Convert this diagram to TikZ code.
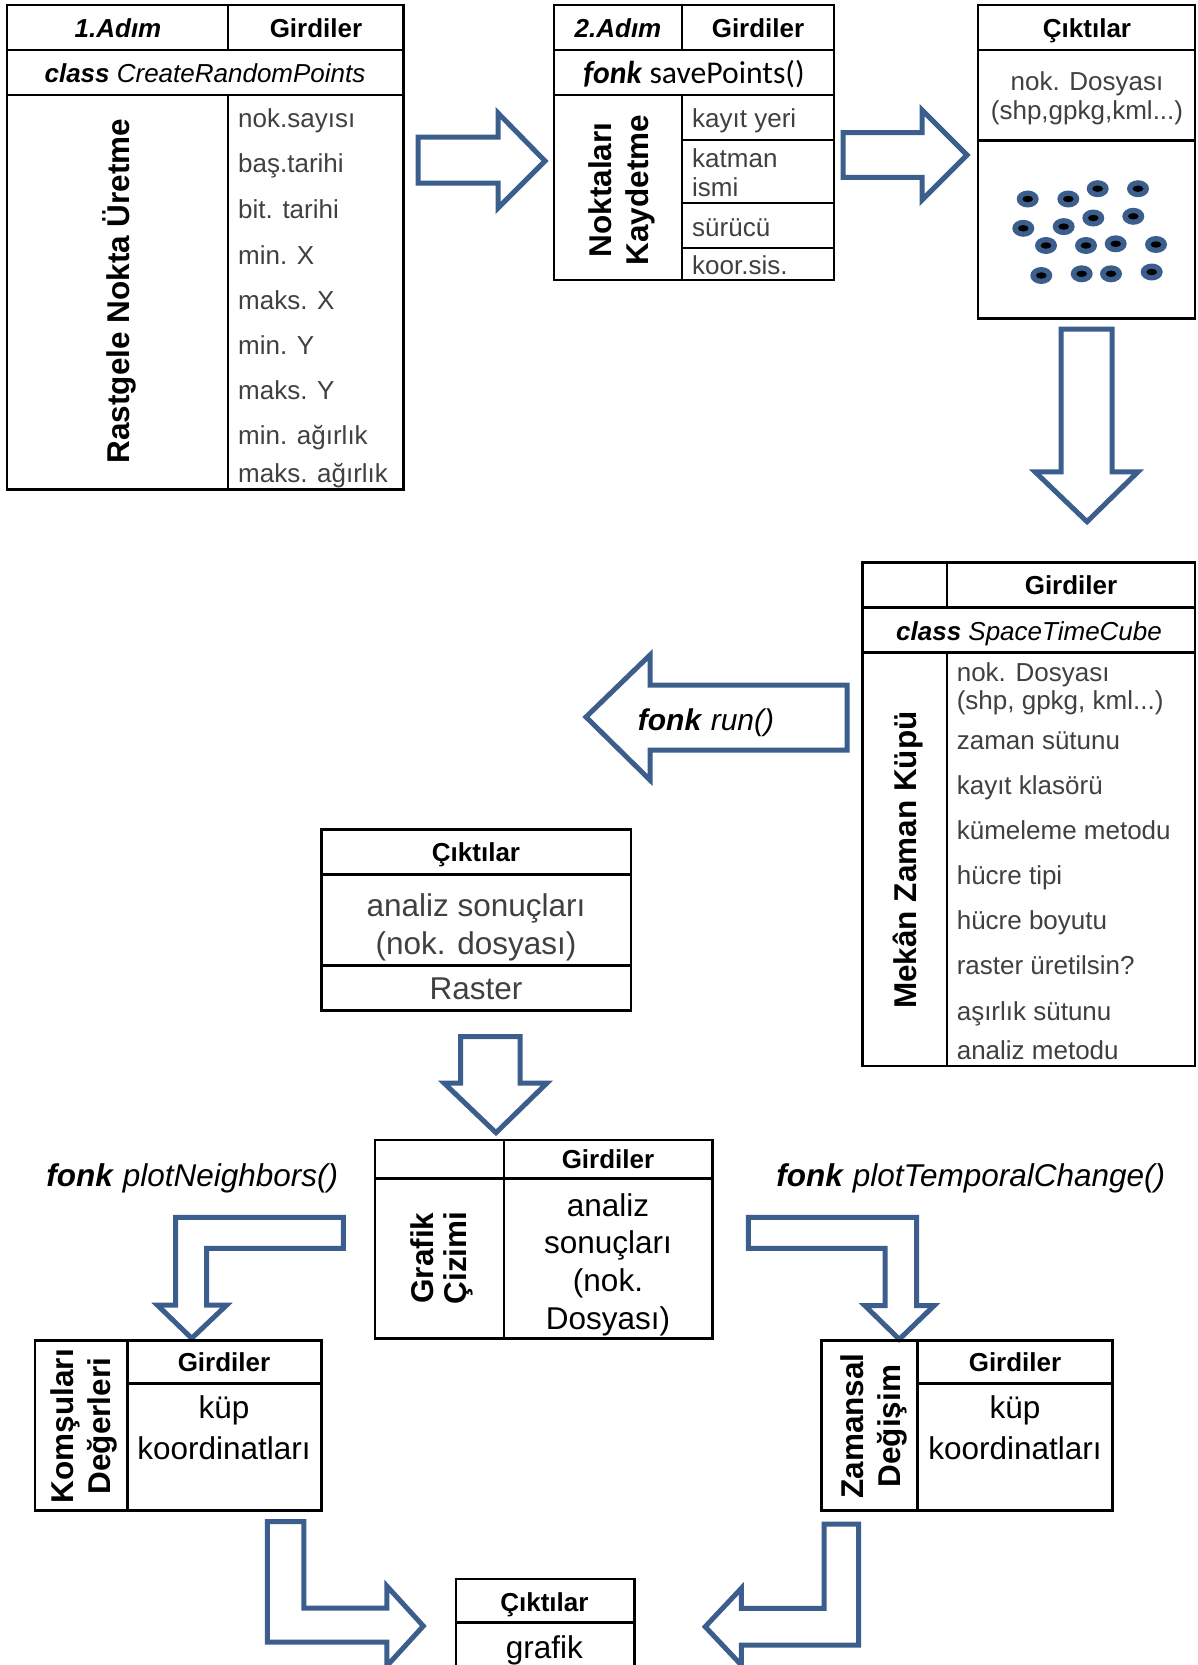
\documentclass[tikz,border=0pt]{standalone}
\usepackage{fontspec}
\setmainfont{Liberation Sans}
\newfontfamily\calibfont{Carlito}
\definecolor{arrowblue}{HTML}{3B5E8C}
\definecolor{inputgray}{HTML}{404040}
\tikzset{
  frame/.style={draw=black, line width=2.5pt},
  rule/.style={draw=black, line width=1.8pt},
  blockarrow/.style={draw=arrowblue, line width=5pt, fill=white, line join=miter, miter limit=10},
  hdr/.style={font={\fontsize{26}{31}\selectfont\bfseries}, inner sep=0pt, text height=18.7pt, text depth=0pt},
  cls/.style={font={\fontsize{26}{31}\selectfont}, inner sep=0pt, text height=18.7pt, text depth=0pt},
  item/.style={font={\fontsize{26}{31}\selectfont}, text=inputgray, inner sep=0pt, text height=18.7pt, text depth=0pt, anchor=west},
  small/.style={font={\fontsize{26}{31}\selectfont}, text=inputgray, inner sep=0pt, text height=18.7pt, text depth=0pt},
  big/.style={font={\fontsize{31.5}{37}\selectfont}, inner sep=0pt, text height=22.7pt, text depth=0pt},
  vlabel/.style={font={\fontsize{31.5}{37}\selectfont\bfseries}, inner sep=0pt, text height=22.7pt, text depth=0pt, rotate=90},
  funclabel/.style={font={\fontsize{31.5}{37}\selectfont}, inner sep=0pt, text height=22.7pt, text depth=0pt},
}
\begin{document}
\begin{tikzpicture}[x=1pt, y=-1pt]
\useasboundingbox (0,0) rectangle (1197,1665);
\fill[white] (0,0) rectangle (1197,1665);
\clip (0,0) rectangle (1197,1665);

% ---------- Block arrows (drawn first, labels go on top) ----------
\draw[blockarrow] (418,137) -- (498,137) -- (498,113) -- (545,161) -- (498,208) -- (498,183) -- (418,183) -- cycle;
\draw[blockarrow] (843,132.6) -- (922,132.6) -- (922,110) -- (967,155) -- (922,200) -- (922,177.3) -- (843,177.3) -- cycle;
\draw[blockarrow] (1061,329) -- (1112,329) -- (1112,471.8) -- (1138,471.8) -- (1087,521.7) -- (1035,471.8) -- (1061,471.8) -- cycle;
\draw[blockarrow] (586,717) -- (650,655) -- (650,685) -- (847,685) -- (847,750) -- (650,750) -- (650,780) -- cycle;
\draw[blockarrow] (460.7,1036.7) -- (520,1036.7) -- (520,1083) -- (547,1083) -- (496,1132.7) -- (444,1083) -- (460.7,1083) -- cycle;
\draw[blockarrow] (343.3,1217.3) -- (175.7,1217.3) -- (175.7,1305) -- (157.3,1305) -- (191.7,1338.3) -- (226.7,1305) -- (206.7,1305) -- (206.7,1248.3) -- (343.3,1248.3) -- cycle;
\draw[blockarrow] (748.3,1217.3) -- (916.7,1217.3) -- (916.7,1305.7) -- (934,1305.7) -- (899.3,1339.3) -- (865,1305.7) -- (885,1305.7) -- (885,1248.3) -- (748.3,1248.3) -- cycle;
\draw[blockarrow] (267.4,1521.7) -- (303.9,1521.7) -- (303.9,1608) -- (386.8,1608) -- (386.8,1586) -- (423.3,1626) -- (386.8,1666) -- (386.8,1642) -- (267.4,1642) -- cycle;
\draw[blockarrow] (858.6,1524) -- (824.2,1524) -- (824.2,1608.3) -- (741.3,1608.3) -- (741.3,1588.3) -- (705.2,1626.7) -- (741.3,1665) -- (741.3,1645) -- (858.6,1645) -- cycle;

% ---------- Step 1: CreateRandomPoints ----------
\draw[frame] (7,5) rectangle (403.5,489.5);
\draw[frame] (7,50) -- (403.5,50);
\draw[frame] (7,95) -- (403.5,95);
\draw[rule] (228,5) -- (228,50);
\draw[rule] (228,95) -- (228,489.5);
\node[hdr] (s1step) at (118,28) {\itshape 1.Adım};
\node[hdr] (s1in) at (316,28) {Girdiler};
\node[cls] (s1cls) at (205,73) {\textbf{\textit{class}} \textit{CreateRandomPoints}};
\node[vlabel] (s1name) at (118.5,291) {Rastgele Nokta Üretme};
\node[item] (s1a) at (238,118) {nok.sayısı};
\node[item] (s1b) at (238,163) {baş.tarihi};
\node[item] (s1c) at (238,209) {bit. tarihi};
\node[item] (s1d) at (238,255) {min. X};
\node[item] (s1e) at (238,300) {maks. X};
\node[item] (s1f) at (238,345) {min. Y};
\node[item] (s1g) at (238,390) {maks. Y};
\node[item] (s1h) at (238,435) {min. ağırlık};
\node[item] (s1i) at (238,473) {maks. ağırlık};

% ---------- Step 2: savePoints ----------
\draw[frame] (554,5) rectangle (834,280);
\draw[frame] (554,50) -- (834,50);
\draw[frame] (554,95) -- (834,95);
\draw[rule] (682,5) -- (682,50);
\draw[rule] (682,95) -- (682,280);
\draw[rule] (682,140) -- (834,140);
\draw[rule] (682,203) -- (834,203);
\draw[rule] (682,248) -- (834,248);
\node[hdr] (s2step) at (618,28) {\itshape 2.Adım};
\node[hdr] (s2in) at (758,28) {Girdiler};
\node[font={\calibfont\fontsize{31.7}{38}\selectfont}, inner sep=0pt, text height=20.5pt, text depth=0pt] (s2fn) at (694,73) {\textbf{\textit{fonk}} savePoints()};
\node[vlabel] (s2name1) at (600,190) {Noktaları};
\node[vlabel] (s2name2) at (637,190) {Kaydetme};
\node[item] (s2a) at (692,118) {kayıt yeri};
\node[item] (s2b) at (692,158) {katman};
\node[item] (s2c) at (692,187) {ismi};
\node[item] (s2d) at (692,227) {sürücü};
\node[item] (s2e) at (692,265) {koor.sis.};

% ---------- Output: point file ----------
\draw[frame] (978,5) rectangle (1195,318.5);
\draw[frame] (978,50) -- (1195,50);
\draw[frame] (978,140.5) -- (1195,140.5);
\node[hdr] (o1hdr) at (1087,28) {Çıktılar};
\node[small] (o1a) at (1087,81) {nok. Dosyası};
\node[small] (o1b) at (1087,110) {(shp,gpkg,kml...)};
\foreach \px/\py in {1027.7/199, 1068.3/199, 1097.7/188.7, 1138/188.7,
                     1023.3/228.3, 1063.7/226.6, 1093.3/218, 1133.3/216.3,
                     1046/245.5, 1086/245.5, 1115.7/243.8, 1156/244.5,
                     1041.3/275.5, 1081.7/273.8, 1111/273.8, 1151.7/272} {
  \fill[arrowblue] (\px,\py) ellipse [x radius=11pt, y radius=8.5pt];
  \fill[black] (\px,\py) ellipse [x radius=5.3pt, y radius=3.2pt];
}

% ---------- SpaceTimeCube ----------
\draw[frame] (862.6,562.7) rectangle (1195,1066);
\draw[frame] (862.6,607.7) -- (1195,607.7);
\draw[frame] (862.6,652.7) -- (1195,652.7);
\draw[rule] (946.8,562.7) -- (946.8,607.7);
\draw[rule] (946.8,652.7) -- (946.8,1066);
\node[hdr] (s3in) at (1071,585) {Girdiler};
\node[cls] (s3cls) at (1029,631) {\textbf{\textit{class}} \textit{SpaceTimeCube}};
\node[vlabel] (s3name) at (905.6,860) {Mekân Zaman Küpü};
\node[item] (s3a) at (956.6,671.7) {nok. Dosyası};
\node[item] (s3b) at (956.6,700) {(shp, gpkg, kml...)};
\node[item] (s3c) at (956.6,740) {zaman sütunu};
\node[item] (s3d) at (956.6,785) {kayıt klasörü};
\node[item] (s3e) at (956.6,830) {kümeleme metodu};
\node[item] (s3f) at (956.6,875) {hücre tipi};
\node[item] (s3g) at (956.6,920) {hücre boyutu};
\node[item] (s3h) at (956.6,965) {raster üretilsin?};
\node[item] (s3i) at (956.6,1011) {aşırlık sütunu};
\node[item] (s3j) at (956.6,1050) {analiz metodu};

% ---------- Output: analysis results ----------
\draw[frame] (321.7,829.3) rectangle (631,1010.7);
\draw[frame] (321.7,874.3) -- (631,874.3);
\draw[frame] (321.7,965.7) -- (631,965.7);
\node[hdr] (o2hdr) at (476,852) {Çıktılar};
\node[big, text=inputgray] (o2a) at (476,905) {analiz sonuçları};
\node[big, text=inputgray] (o2b) at (476,943) {(nok. dosyası)};
\node[big, text=inputgray] (o2c) at (476,988) {Raster};

% ---------- Plotting ----------
\draw[frame] (375,1140) rectangle (712.7,1338.3);
\draw[frame] (375,1178.3) -- (712.7,1178.3);
\draw[frame] (504,1140) -- (504,1338.3);
\node[hdr] (s4in) at (608,1159) {Girdiler};
\node[vlabel] (s4name1) at (422.5,1258) {Grafik};
\node[vlabel] (s4name2) at (455,1258) {Çizimi};
\node[big] (s4a) at (608,1205) {analiz};
\node[big] (s4b) at (608,1241.7) {sonuçları};
\node[big] (s4c) at (608,1280) {(nok.};
\node[big] (s4d) at (608,1318) {Dosyası)};

% ---------- Neighbour values ----------
\draw[frame] (35,1340.7) rectangle (321.7,1510.7);
\draw[frame] (127.3,1383.3) -- (321.7,1383.3);
\draw[frame] (127.3,1340.7) -- (127.3,1510.7);
\node[hdr] (s5in) at (224,1362) {Girdiler};
\node[vlabel] (s5name1) at (62.5,1426) {Komşuları};
\node[vlabel] (s5name2) at (98.7,1426) {Değerleri};
\node[big] (s5a) at (224,1406.7) {küp};
\node[big] (s5b) at (224,1448.3) {koordinatları};

% ---------- Temporal change ----------
\draw[frame] (821.7,1340.7) rectangle (1112.3,1510.7);
\draw[frame] (917.3,1383.3) -- (1112.3,1383.3);
\draw[frame] (917.3,1340.7) -- (917.3,1510.7);
\node[hdr] (s6in) at (1015,1362) {Girdiler};
\node[vlabel] (s6name1) at (851.7,1426) {Zamansal};
\node[vlabel] (s6name2) at (889,1426) {Değişim};
\node[big] (s6a) at (1015,1406.7) {küp};
\node[big] (s6b) at (1015,1448.3) {koordinatları};

% ---------- Output: graphic ----------
\draw[frame] (456,1579) rectangle (634.3,1700);
\draw[frame] (456,1622.7) -- (634.3,1622.7);
\node[hdr] (o3hdr) at (544.4,1601.7) {Çıktılar};
\node[big] (o3a) at (544.4,1646.7) {grafik};

% ---------- Function labels ----------
\node[funclabel, font={\fontsize{30}{36}\selectfont}, text height=21.6pt] (frun) at (706,720) {\textbf{\textit{fonk}} \textit{run()}};
\node[funclabel] (fneigh) at (192.3,1175) {\textbf{\textit{fonk}} \textit{plotNeighbors()}};
\node[funclabel] (ftemp) at (970.8,1175) {\textbf{\textit{fonk}} \textit{plotTemporalChange()}};
\end{tikzpicture}
\end{document}
